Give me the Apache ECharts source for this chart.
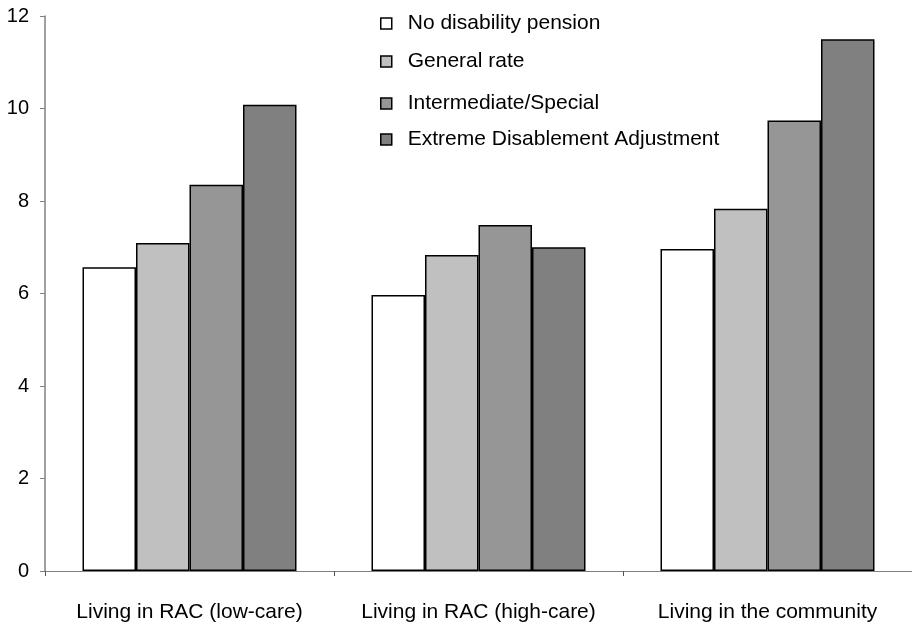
<!DOCTYPE html>
<html>
<head>
<meta charset="utf-8">
<script src="https://cdn.jsdelivr.net/npm/echarts@6/dist/echarts.min.js"></script>
<style>html,body{margin:0;padding:0;background:#fff}#c{width:912px;height:630px}</style>
</head>
<body>
<div id="c"></div>
<script>
var categories = ['Living in RAC (low-care)', 'Living in RAC (high-care)', 'Living in the community'];
var seriesNames = ['No disability pension', 'General rate', 'Intermediate/Special', 'Extreme Disablement Adjustment'];
var noPension = [6.57, 5.97, 6.96];
var generalRate = [7.09, 6.83, 7.83];
var intermediate = [8.35, 7.48, 9.74];
var extreme = [10.08, 7.0, 11.5];
var yTicks = [0, 2, 4, 6, 8, 10, 12];

var colors = ['#ffffff', '#c0c0c0', '#969696', '#808080'];
var values = [noPension, generalRate, intermediate, extreme];
var legendTops = [8, 46, 88, 124];

var chart = echarts.init(document.getElementById('c'));
var font = 'Liberation Sans, Arial, sans-serif';
var series = seriesNames.map(function (n, i) {
  return {
    name: n, type: 'bar', data: values[i], barWidth: 53.5, barGap: '0%',
    itemStyle: { color: colors[i], borderColor: '#000', borderWidth: 1.5 },
    emphasis: { disabled: true }
  };
});
var legends = seriesNames.map(function (n, i) {
  return {
    data: [n], left: 375, top: legendTops[i], itemWidth: 11, itemHeight: 11,
    icon: 'rect', itemStyle: { borderColor: '#000', borderWidth: 1.5 },
    textStyle: { fontFamily: font, fontSize: 21, color: '#000', padding: [0, 0, 0, 11] },
    selectedMode: false
  };
});
chart.setOption({
  animation: false,
  color: colors,
  legend: legends,
  grid: { left: 45, right: 0, top: 16, bottom: 59, containLabel: false },
  xAxis: {
    type: 'category', data: categories,
    axisLine: { lineStyle: { color: '#808080', width: 1 } },
    axisTick: { show: true, length: 5, lineStyle: { color: '#555' } },
    axisLabel: { fontFamily: font, fontSize: 21, color: '#000', margin: 31, interval: 0, hideOverlap: false }
  },
  yAxis: {
    type: 'value', min: yTicks[0], max: yTicks[yTicks.length - 1], interval: 2,
    splitLine: { show: false },
    axisLine: { show: true, lineStyle: { color: '#808080', width: 1.5 } },
    axisTick: { show: true, length: 5, lineStyle: { color: '#808080' } },
    axisLabel: { fontFamily: font, fontSize: 20, color: '#000', margin: 16 }
  },
  series: series
});
</script>
</body>
</html>
